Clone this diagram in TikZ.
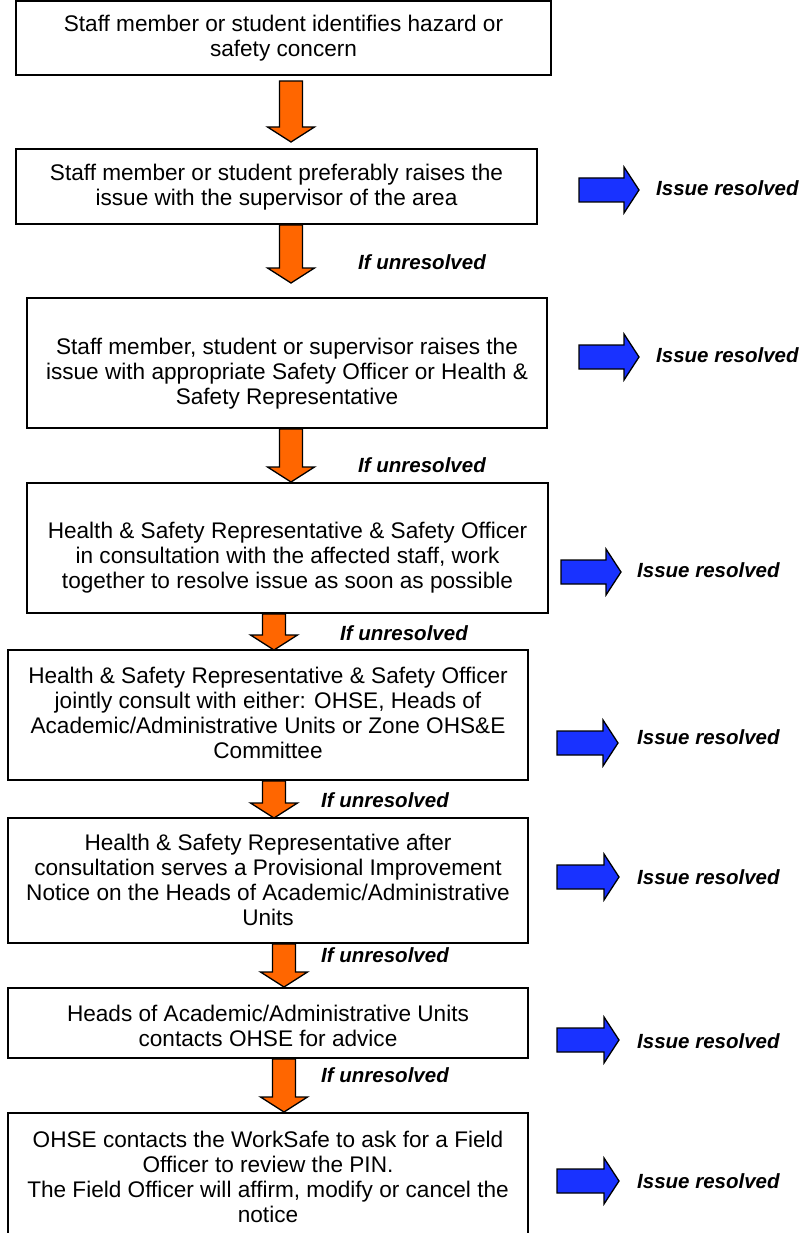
\documentclass[tikz,border=0pt]{standalone}
\usepackage{fontspec}
\setmainfont{Liberation Sans}
\usetikzlibrary{calc}
\definecolor{arrorange}{RGB}{255,102,0}
\definecolor{arrblue}{RGB}{25,50,255}
\tikzset{
  box/.style={draw=black, line width=2pt, rectangle, inner sep=0pt, fill=white},
  boxtext/.style={align=center, font=\fontsize{22.6}{25}\selectfont, inner sep=0pt},
  lbl/.style={font=\fontsize{20.5}{24}\selectfont\bfseries\itshape, anchor=west, inner sep=0pt},
  downblock/.style={draw=black, line width=1.3pt, fill=arrorange, line join=miter,
    to path={let \p1=(\tikztostart), \p2=(\tikztotarget) in
      (\x1-11.5pt,\y1) -- (\x1+11.5pt,\y1) -- (\x1+11.5pt,\y2+15pt) -- (\x1+23.5pt,\y2+15pt)
      -- (\x1,\y2) -- (\x1-23.5pt,\y2+15pt) -- (\x1-11.5pt,\y2+15pt) -- cycle}},
  rightblock/.style={draw=black, line width=1.3pt, fill=arrblue, line join=miter,
    to path={let \p1=(\tikztostart), \p2=(\tikztotarget) in
      (\x1,\y1+12pt) -- (\x2-15pt,\y1+12pt) -- (\x2-15pt,\y1+23pt) -- (\x2,\y1)
      -- (\x2-15pt,\y1-23pt) -- (\x2-15pt,\y1-12pt) -- (\x1,\y1-12pt) -- cycle}},
}
\begin{document}
\begin{tikzpicture}[x=1pt,y=-1pt]
\useasboundingbox (0,0) rectangle (804,1233);
\clip (0,0) rectangle (804,1233);
\fill[white] (0,0) rectangle (804,1233);

% boxes
\node[box, minimum width=535pt, minimum height=74pt] (b1) at (283.5,38) {};
\node[box, minimum width=521pt, minimum height=75pt] (b2) at (276.5,186.5) {};
\node[box, minimum width=520pt, minimum height=130pt] (b3) at (287,363) {};
\node[box, minimum width=521pt, minimum height=130pt] (b4) at (287.5,548) {};
\node[box, minimum width=520pt, minimum height=130pt] (b5) at (268,715) {};
\node[box, minimum width=520pt, minimum height=125pt] (b6) at (268,880.5) {};
\node[box, minimum width=520pt, minimum height=70pt] (b7) at (268,1023) {};
\node[box, minimum width=520pt, minimum height=147pt] (b8) at (268,1186.5) {};

% box texts
\node[boxtext] (t1) at (283.5,38.5) {Staff member or student identifies hazard or\\safety concern};
\node[boxtext] (t2) at (276.5,187) {Staff member or student preferably raises the\\issue with the supervisor of the area};
\node[boxtext] (t3) at (287,373.5) {Staff member, student or supervisor raises the\\issue with appropriate Safety Officer or Health \&\\Safety Representative};
\node[boxtext] (t4) at (287.5,558) {Health \& Safety Representative \& Safety Officer\\in consultation with the affected staff, work\\together to resolve issue as soon as possible};
\node[boxtext] (t5) at (268,713) {Health \& Safety Representative \& Safety Officer\\jointly consult with either: OHSE, Heads of\\Academic/Administrative Units or Zone OHS\&E\\Committee};
\node[boxtext] (t6) at (268,880) {Health \& Safety Representative after\\consultation serves a Provisional Improvement\\Notice on the Heads of Academic/Administrative\\Units};
\node[boxtext] (t7) at (268,1025.5) {Heads of Academic/Administrative Units\\contacts OHSE for advice};
\node[boxtext] (t8) at (268,1177) {OHSE contacts the WorkSafe to ask for a Field\\Officer to review the PIN.\\The Field Officer will affirm, modify or cancel the\\notice};

% orange down arrows
\coordinate (o1a) at (291,81);   \coordinate (o1b) at (291,142);
\coordinate (o2a) at (291,225);  \coordinate (o2b) at (291,283);
\coordinate (o3a) at (291,429);  \coordinate (o3b) at (291,482);
\coordinate (o4a) at (274,614);  \coordinate (o4b) at (274,650);
\coordinate (o5a) at (274,781);  \coordinate (o5b) at (274,818);
\coordinate (o6a) at (284,944);  \coordinate (o6b) at (284,987);
\coordinate (o7a) at (284,1059); \coordinate (o7b) at (284,1112);
\foreach \i in {1,...,7} { \draw[downblock] (o\i a) to (o\i b); }

% if unresolved labels
\node[lbl] (u2) at (358,262) {If unresolved};
\node[lbl] (u3) at (358,465) {If unresolved};
\node[lbl] (u4) at (340,633) {If unresolved};
\node[lbl] (u5) at (321,800) {If unresolved};
\node[lbl] (u6) at (321,955) {If unresolved};
\node[lbl] (u7) at (321,1075) {If unresolved};

% blue arrows and issue resolved labels
\node[lbl] (r2) at (656,188) {Issue resolved};
\node[lbl] (r3) at (656,355) {Issue resolved};
\node[lbl] (r4) at (637,570) {Issue resolved};
\node[lbl] (r5) at (637,737) {Issue resolved};
\node[lbl] (r6) at (637,877) {Issue resolved};
\node[lbl] (r7) at (637,1041) {Issue resolved};
\node[lbl] (r8) at (637,1181) {Issue resolved};
\coordinate (g2a) at (579,190);  \coordinate (g2b) at (639,190);
\coordinate (g3a) at (579,357);  \coordinate (g3b) at (639,357);
\coordinate (g4a) at (561,572);  \coordinate (g4b) at (621,572);
\coordinate (g5a) at (557,743);  \coordinate (g5b) at (618,743);
\coordinate (g6a) at (557,877);  \coordinate (g6b) at (619,877);
\coordinate (g7a) at (557,1040); \coordinate (g7b) at (619,1040);
\coordinate (g8a) at (557,1181); \coordinate (g8b) at (619,1181);
\foreach \i in {2,...,8} { \draw[rightblock] (g\i a) to (g\i b); }
\end{tikzpicture}
\end{document}
